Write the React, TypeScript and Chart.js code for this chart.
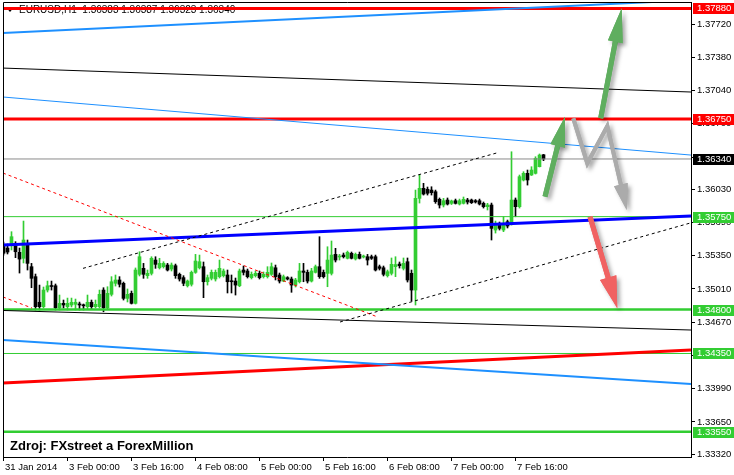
import React, { useEffect, useRef } from "react";
import { Chart, registerables } from "chart.js";

Chart.register(...registerables);

// ---------- data ----------
// hourly EURUSD candles, index 0 = 31 Jan 2014 08:00
const opens = [
  1.35467, 1.35429, 1.35453, 1.35453, 1.35385, 1.35324, 1.35477, 1.35238, 1.35136, 1.34874,
  1.34829, 1.34999, 1.35045, 1.35043, 1.34818, 1.34863, 1.34829, 1.34846, 1.34853, 1.34857,
  1.34846, 1.34829, 1.34874, 1.34829, 1.34829, 1.34999, 1.34818, 1.34955, 1.35068, 1.35102,
  1.35068, 1.34914, 1.34965, 1.34863, 1.35160, 1.35221, 1.35146, 1.35170, 1.35306, 1.35227,
  1.35238, 1.35255, 1.35214, 1.35248, 1.35160, 1.35126, 1.35043, 1.35058, 1.35180, 1.35227,
  1.35238, 1.35084, 1.35119, 1.35112, 1.35136, 1.35146, 1.35153, 1.35091, 1.35091, 1.35043,
  1.35204, 1.35194, 1.35126, 1.35146, 1.35170, 1.35136, 1.35136, 1.35160, 1.35227, 1.35153,
  1.35091, 1.35126, 1.35112, 1.35050, 1.35084, 1.35194, 1.35180, 1.35091, 1.35180, 1.35238,
  1.35180, 1.35170, 1.35170, 1.35364, 1.35337, 1.35357, 1.35324, 1.35375, 1.35317, 1.35364,
  1.35337, 1.35340, 1.35340, 1.35340, 1.35238, 1.35227, 1.35146, 1.35170, 1.35238, 1.35265,
  1.35221, 1.35289, 1.35170, 1.34999, 1.35937, 1.36040, 1.36030, 1.36022, 1.36005, 1.35927,
  1.35869, 1.35920, 1.35886, 1.35913, 1.35879, 1.35886, 1.35920, 1.35920, 1.35913, 1.35913,
  1.35886, 1.35852, 1.35869, 1.35613, 1.35664, 1.35613, 1.35698, 1.35674, 1.35920, 1.35852,
  1.36125, 1.36193, 1.36176, 1.36193, 1.36261, 1.36383,
];
const highs = [
  1.35490, 1.35470, 1.35596, 1.35494, 1.35429, 1.35705, 1.35511, 1.35272, 1.35163, 1.35050,
  1.35030, 1.35091, 1.35091, 1.35061, 1.34948, 1.34897, 1.34917, 1.34917, 1.34907, 1.34876,
  1.34856, 1.34948, 1.34897, 1.34897, 1.34999, 1.35023, 1.35033, 1.35136, 1.35153, 1.35136,
  1.35081, 1.35010, 1.34989, 1.35225, 1.35391, 1.35272, 1.35204, 1.35340, 1.35340, 1.35324,
  1.35289, 1.35272, 1.35276, 1.35265, 1.35173, 1.35146, 1.35102, 1.35194, 1.35364, 1.35357,
  1.35286, 1.35153, 1.35204, 1.35204, 1.35306, 1.35214, 1.35204, 1.35153, 1.35122, 1.35214,
  1.35245, 1.35214, 1.35184, 1.35194, 1.35194, 1.35184, 1.35238, 1.35276, 1.35255, 1.35173,
  1.35153, 1.35136, 1.35132, 1.35119, 1.35272, 1.35272, 1.35204, 1.35221, 1.35255, 1.35545,
  1.35204, 1.35442, 1.35501, 1.35426, 1.35364, 1.35378, 1.35398, 1.35388, 1.35378, 1.35388,
  1.35357, 1.35364, 1.35357, 1.35357, 1.35255, 1.35245, 1.35204, 1.35327, 1.35340, 1.35286,
  1.35327, 1.35327, 1.35204, 1.36022, 1.36176, 1.36091, 1.36053, 1.36056, 1.36022, 1.35941,
  1.35937, 1.35941, 1.35920, 1.35930, 1.35930, 1.35951, 1.35937, 1.35930, 1.35925, 1.35930,
  1.35900, 1.35886, 1.35889, 1.35705, 1.35695, 1.35749, 1.35715, 1.36414, 1.35941, 1.36176,
  1.36210, 1.36227, 1.36261, 1.36363, 1.36391, 1.36387,
];
const lows = [
  1.35357, 1.35368, 1.35409, 1.35330, 1.35173, 1.35276, 1.35204, 1.35023, 1.34795, 1.34795,
  1.34815, 1.34979, 1.34999, 1.34795, 1.34795, 1.34815, 1.34795, 1.34826, 1.34795, 1.34795,
  1.34795, 1.34805, 1.34805, 1.34815, 1.34815, 1.34777, 1.34805, 1.34938, 1.35040, 1.35030,
  1.34897, 1.34877, 1.34856, 1.34856, 1.35143, 1.35119, 1.35119, 1.35153, 1.35221, 1.35214,
  1.35224, 1.35194, 1.35194, 1.35119, 1.35091, 1.35043, 1.35030, 1.35040, 1.35170, 1.35214,
  1.34921, 1.35050, 1.35102, 1.35091, 1.35122, 1.35132, 1.34969, 1.34969, 1.34948, 1.35033,
  1.35153, 1.35122, 1.35112, 1.35132, 1.35112, 1.35122, 1.35122, 1.35148, 1.35102, 1.35071,
  1.35084, 1.35102, 1.34976, 1.35030, 1.35071, 1.35084, 1.35071, 1.35081, 1.35173, 1.35119,
  1.35122, 1.35033, 1.35153, 1.35286, 1.35306, 1.35327, 1.35317, 1.35317, 1.35306, 1.35317,
  1.35327, 1.35255, 1.35312, 1.35194, 1.35204, 1.35143, 1.35132, 1.35153, 1.35136, 1.35224,
  1.35204, 1.35081, 1.34887, 1.34846, 1.35889, 1.35971, 1.35971, 1.35971, 1.35886, 1.35838,
  1.35849, 1.35869, 1.35874, 1.35879, 1.35869, 1.35879, 1.35879, 1.35884, 1.35889, 1.35869,
  1.35838, 1.35818, 1.35511, 1.35582, 1.35613, 1.35596, 1.35634, 1.35664, 1.35749, 1.35838,
  1.36115, 1.36073, 1.36171, 1.36186, 1.36258, 1.36323,
];
const closes = [
  1.35375, 1.35388, 1.35545, 1.35391, 1.35316, 1.35511, 1.35272, 1.35119, 1.34829, 1.34829,
  1.34999, 1.35043, 1.35035, 1.34818, 1.34863, 1.34846, 1.34863, 1.34874, 1.34874, 1.34846,
  1.34838, 1.34874, 1.34829, 1.34853, 1.34955, 1.34818, 1.34965, 1.35084, 1.35102, 1.35058,
  1.34914, 1.34955, 1.34863, 1.35204, 1.35340, 1.35160, 1.35170, 1.35324, 1.35262, 1.35272,
  1.35272, 1.35204, 1.35255, 1.35146, 1.35112, 1.35068, 1.35091, 1.35180, 1.35296, 1.35289,
  1.35084, 1.35126, 1.35180, 1.35180, 1.35221, 1.35194, 1.35084, 1.35084, 1.35050, 1.35194,
  1.35180, 1.35136, 1.35160, 1.35170, 1.35126, 1.35160, 1.35180, 1.35238, 1.35136, 1.35091,
  1.35136, 1.35112, 1.35050, 1.35102, 1.35194, 1.35180, 1.35091, 1.35194, 1.35238, 1.35136,
  1.35136, 1.35306, 1.35357, 1.35306, 1.35347, 1.35340, 1.35385, 1.35324, 1.35364, 1.35324,
  1.35347, 1.35306, 1.35324, 1.35204, 1.35221, 1.35160, 1.35187, 1.35262, 1.35260, 1.35248,
  1.35272, 1.35102, 1.34999, 1.35937, 1.36040, 1.35981, 1.35989, 1.35995, 1.35903, 1.35869,
  1.35913, 1.35879, 1.35910, 1.35886, 1.35913, 1.35927, 1.35900, 1.35893, 1.35900, 1.35879,
  1.35852, 1.35869, 1.35630, 1.35681, 1.35630, 1.35681, 1.35654, 1.35920, 1.35852, 1.36159,
  1.36193, 1.36125, 1.36227, 1.36346, 1.36380, 1.36340,
];

const xTickIndex = [0, 16, 32, 48, 64, 80, 96, 112, 128];
const xTickLabels = [
  "31 Jan 2014", "3 Feb 00:00", "3 Feb 16:00", "4 Feb 08:00", "5 Feb 00:00",
  "5 Feb 16:00", "6 Feb 08:00", "7 Feb 00:00", "7 Feb 16:00",
];
const yTicks = [
  1.3772, 1.3738, 1.3704, 1.367, 1.3636, 1.3603, 1.3569, 1.3535, 1.3501,
  1.3467, 1.3433, 1.3399, 1.3365, 1.3332,
];

// horizontal levels
const levelPrices = [1.3788, 1.3675, 1.3575, 1.348, 1.3435, 1.3355];
const bidPrice = 1.3634;

// trend lines: [[barIndex, price], [barIndex, price]]
const topBlueLine = [[-0.125, 1.37628], [171.875, 1.37965]];
const upperBlackLine = [[-0.125, 1.3727], [171.875, 1.37025]];
const midBlueLine = [[-0.125, 1.36974], [171.875, 1.3638]];
const blueSupport = [[-0.125, 1.3546], [171.875, 1.35756]];
const lowerBlackLine = [[-0.125, 1.3479], [171.875, 1.3459]];
const redRisingLine = [[-0.125, 1.34048], [171.875, 1.34386]];
const lowerBlueLine = [[-0.125, 1.34488], [171.875, 1.34038]];
const channelUpper = [[19.875, 1.35221], [123.875, 1.36408]];
const channelLower = [[84.125, 1.34672], [171.875, 1.35687]];
const redDashUpper = [[-0.125, 1.36196], [93.375, 1.34726]];
const redDashLower = [[-0.125, 1.34928], [7.125, 1.34815]];

// scenario arrows (bar index, price)
const arrowGreenSmall = [[135.375, 1.35954], [140.375, 1.36772]];
const arrowGreenBig = [[149.3, 1.36756], [154.55, 1.37881]];
const arrowGrayZigzag = [[142.45, 1.36756], [145.95, 1.36295], [150.95, 1.36677], [155.8, 1.35818]];
const arrowRed = [[146.625, 1.35749], [153.45, 1.34812]];

// right-axis price markers
const markerPrices = [1.3788, 1.3675, 1.3634, 1.3575, 1.348, 1.3435, 1.3355];

const headerText = "EURUSD,H1  1.36383 1.36387 1.36323 1.36340";
const sourceText = "Zdroj: FXstreet a ForexMillion";

// ---------- styles ----------
const FONT = "'Liberation Sans', Arial, sans-serif";
const GREEN = "#32cd32";
const RED = "#ff0000";
const BLUE = "#0000ff";
const LBLUE = "#1e90ff";
const X_MIN = -0.125;
const X_MAX = 171.875;
const Y_MIN = 1.33291;
const Y_MAX = 1.37946;

const levelStyles = [
  { color: RED, width: 3 },
  { color: RED, width: 3 },
  { color: GREEN, width: 1 },
  { color: GREEN, width: 2.5 },
  { color: GREEN, width: 1 },
  { color: GREEN, width: 2.5 },
];
const markerColors = [RED, RED, "#000000", GREEN, GREEN, GREEN, GREEN];

type P = number[][];

function lineDs(pts: P, color: string, width: number, dash: number[] = [], order = 2) {
  return {
    type: "line" as const,
    data: pts.map((p) => ({ x: p[0], y: p[1] })),
    borderColor: color,
    borderWidth: width,
    borderDash: dash,
    pointRadius: 0,
    pointHoverRadius: 0,
    fill: false,
    tension: 0,
    clip: 0,
    order,
  };
}

function drawArrowShape(ctx: CanvasRenderingContext2D, pts: number[][], color: string, shaftW: number, headW: number, headL: number) {
  const n = pts.length;
  const [tx, ty] = pts[n - 1];
  const [px, py] = pts[n - 2];
  const dx = tx - px;
  const dy = ty - py;
  const len = Math.hypot(dx, dy);
  const ux = dx / len;
  const uy = dy / len;
  const bx = tx - ux * headL;
  const by = ty - uy * headL;
  const nx = -uy;
  const ny = ux;
  ctx.strokeStyle = color;
  ctx.fillStyle = color;
  ctx.lineWidth = shaftW;
  ctx.lineJoin = "miter";
  ctx.miterLimit = 10;
  ctx.lineCap = "butt";
  ctx.beginPath();
  ctx.moveTo(pts[0][0], pts[0][1]);
  for (let i = 1; i < n - 1; i++) ctx.lineTo(pts[i][0], pts[i][1]);
  ctx.lineTo(bx + ux * 3, by + uy * 3);
  ctx.stroke();
  ctx.beginPath();
  ctx.moveTo(tx, ty);
  ctx.lineTo(bx + (nx * headW) / 2, by + (ny * headW) / 2);
  ctx.lineTo(bx - (nx * headW) / 2, by - (ny * headW) / 2);
  ctx.closePath();
  ctx.fill();
}

const overlayPlugin = {
  id: "overlay",
  beforeDatasetsDraw(chart: any) {
    const ctx: CanvasRenderingContext2D = chart.ctx;
    ctx.save();
    ctx.fillStyle = "#000";
    ctx.beginPath();
    ctx.moveTo(7, 8.5);
    ctx.lineTo(13, 8.5);
    ctx.lineTo(10, 12);
    ctx.closePath();
    ctx.fill();
    ctx.font = `10px ${FONT}`;
    ctx.textBaseline = "middle";
    ctx.textAlign = "left";
    ctx.fillText(headerText, 19, 10);
    ctx.restore();
  },
  afterDatasetsDraw(chart: any) {
    const ctx: CanvasRenderingContext2D = chart.ctx;
    const xs = chart.scales.x;
    const ys = chart.scales.y;
    const toPx = (pts: P) => pts.map((p) => [xs.getPixelForValue(p[0]), ys.getPixelForValue(p[1])]);
    const arrows = [
      { pts: toPx(arrowGreenSmall), color: "#5fae5f", w: 5, hw: 15, hl: 30 },
      { pts: toPx(arrowGreenBig), color: "#5fae5f", w: 5, hw: 15, hl: 34 },
      { pts: toPx(arrowGrayZigzag), color: "#ababab", w: 4, hw: 14, hl: 26 },
      { pts: toPx(arrowRed), color: "#f06262", w: 5, hw: 17, hl: 32 },
    ];
    ctx.save();
    ctx.beginPath();
    ctx.rect(chart.chartArea.left, chart.chartArea.top, chart.chartArea.right - chart.chartArea.left, chart.chartArea.bottom - chart.chartArea.top);
    ctx.clip();
    // shadows first
    ctx.save();
    ctx.shadowColor = "rgba(0,0,0,0.35)";
    ctx.shadowBlur = 4;
    ctx.shadowOffsetX = 3;
    ctx.shadowOffsetY = 3;
    arrows.forEach((a) => drawArrowShape(ctx, a.pts, a.color, a.w, a.hw, a.hl));
    ctx.restore();
    arrows.forEach((a) => drawArrowShape(ctx, a.pts, a.color, a.w, a.hw, a.hl));
    ctx.restore();
  },
  afterDraw(chart: any) {
    const ctx: CanvasRenderingContext2D = chart.ctx;
    const { left, top, right, bottom } = chart.chartArea;
    const ys = chart.scales.y;
    ctx.save();
    // frame
    ctx.strokeStyle = "#000";
    ctx.lineWidth = 1;
    ctx.beginPath();
    ctx.moveTo(Math.round(left) + 0.5, Math.round(bottom));
    ctx.lineTo(Math.round(left) + 0.5, Math.round(top) + 0.5);
    ctx.lineTo(Math.round(right) + 1, Math.round(top) + 0.5);
    ctx.stroke();
    // price markers
    ctx.font = `9.5px ${FONT}`;
    ctx.textBaseline = "middle";
    ctx.textAlign = "left";
    markerPrices.forEach((p, i) => {
      const y = Math.round(ys.getPixelForValue(p));
      ctx.fillStyle = markerColors[i];
      ctx.fillRect(Math.round(right) + 2, y - 5, 734 - Math.round(right) - 2, 11);
      ctx.fillStyle = "#fff";
      ctx.fillText(p.toFixed(5), Math.round(right) + 6, y + 0.5);
    });
    // source caption
    ctx.fillStyle = "#000";
    ctx.font = `bold 13px ${FONT}`;
    ctx.textBaseline = "alphabetic";
    ctx.fillText(sourceText, 10, 450);
    ctx.restore();
  },
};

export default function App() {
  const ref = useRef<HTMLCanvasElement>(null);

  useEffect(() => {
    const canvas = ref.current;
    if (!canvas) return;
    const idx = opens.map((_, i) => i);
    const candleColor = (c: any) => (closes[c.dataIndex] >= opens[c.dataIndex] ? GREEN : "#000000");

    const datasets: any[] = [
      {
        type: "bar",
        label: "wicks",
        data: idx.map((i) => ({ x: i, y: [lows[i], highs[i]] })),
        backgroundColor: candleColor,
        borderWidth: 0,
        barThickness: 1,
        grouped: false,
        order: 30,
      },
      {
        type: "bar",
        label: "bodies",
        data: idx.map((i) => ({ x: i, y: [opens[i], closes[i]] })),
        backgroundColor: candleColor,
        borderWidth: 0,
        barThickness: 3,
        minBarLength: 1,
        grouped: false,
        order: 29,
      },
      lineDs([[X_MIN, bidPrice], [X_MAX, bidPrice]], "#8a8a8a", 1, [], 20),
      ...levelPrices.map((p, i) => lineDs([[X_MIN, p], [X_MAX, p]], levelStyles[i].color, levelStyles[i].width, [], 5)),
      lineDs(topBlueLine, LBLUE, 2),
      lineDs(upperBlackLine, "#000000", 1),
      lineDs(midBlueLine, LBLUE, 1),
      lineDs(blueSupport, BLUE, 3, [], 4),
      lineDs(lowerBlackLine, "#000000", 1),
      lineDs(redRisingLine, RED, 3, [], 4),
      lineDs(lowerBlueLine, LBLUE, 2),
      lineDs(channelUpper, "#000000", 1, [3, 3]),
      lineDs(channelLower, "#000000", 1, [3, 3]),
      lineDs(redDashUpper, RED, 1, [3, 3]),
      lineDs(redDashLower, RED, 1, [3, 3]),
    ];

    const tickFont = { family: FONT, size: 9.5 };

    const chart = new Chart(canvas, {
      type: "bar",
      data: { datasets },
      options: {
        animation: false,
        responsive: false,
        devicePixelRatio: 1,
        events: [],
        layout: { padding: { left: 3, top: 2, right: 0, bottom: 0 } },
        plugins: { legend: { display: false }, tooltip: { enabled: false } },
        scales: {
          x: {
            type: "linear",
            position: "bottom",
            min: X_MIN,
            max: X_MAX,
            offset: false,
            grid: { offset: false, drawOnChartArea: false, drawTicks: true, tickLength: 4, color: "#000" },
            border: { display: true, color: "#000", width: 1 },
            ticks: {
              autoSkip: false,
              maxRotation: 0,
              minRotation: 0,
              align: "start",
              labelOffset: 1.5,
              padding: 1,
              color: "#000",
              font: tickFont,
              callback: (v: any) => {
                const k = xTickIndex.indexOf(Number(v));
                return k >= 0 ? xTickLabels[k] : "";
              },
            },
            afterBuildTicks: (s: any) => {
              s.ticks = xTickIndex.map((v) => ({ value: v }));
            },
            afterFit: (s: any) => {
              s.height = 18;
              s.paddingLeft = 0;
              s.paddingRight = 0;
            },
          },
          y: {
            type: "linear",
            position: "right",
            min: Y_MIN,
            max: Y_MAX,
            beginAtZero: false,
            grid: { drawOnChartArea: false, drawTicks: true, tickLength: 4, color: "#000" },
            border: { display: true, color: "#000", width: 1 },
            ticks: {
              padding: 2,
              color: "#000",
              font: tickFont,
              callback: (v: any) => Number(v).toFixed(5),
            },
            afterBuildTicks: (s: any) => {
              s.ticks = yTicks.map((v) => ({ value: v }));
            },
            afterFit: (s: any) => {
              s.width = 43;
              s.paddingTop = 0;
              s.paddingBottom = 0;
            },
          },
        },
      } as any,
      plugins: [overlayPlugin],
    });

    return () => chart.destroy();
  }, []);

  return (
    <canvas
      ref={ref}
      width={734}
      height={475}
      style={{ position: "absolute", left: 0, top: 0, display: "block", background: "#fff" }}
    />
  );
}
